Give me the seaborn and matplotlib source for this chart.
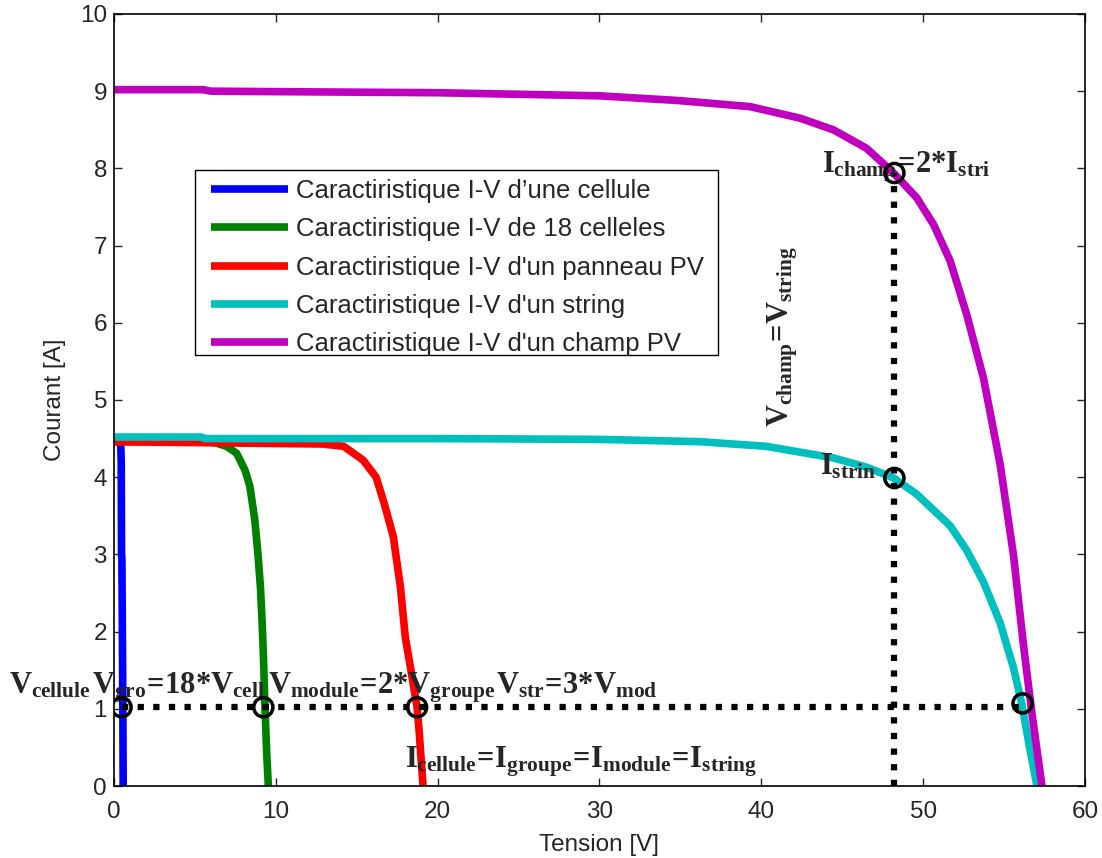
import matplotlib
matplotlib.use("Agg")
import matplotlib.pyplot as plt
from matplotlib.patches import Rectangle
import seaborn as sns
import pandas as pd

# I-V characteristics: tension [V] and courant [A]
V_cell = [0, 0.35, 0.42, 0.45, 0.47, 0.49, 0.52, 0.55, 0.57]
I_cell = [4.46, 4.46, 4.42, 4.2, 3.0, 2.95, 2.0, 1.0, 0.0]

V_group = [0, 5.3, 6.2, 6.96, 7.58, 8.1, 8.4, 8.7, 8.9, 9.05, 9.15, 9.23, 9.33, 9.44, 9.54]
I_group = [4.46, 4.46, 4.45, 4.40, 4.31, 4.09, 3.88, 3.45, 3.0, 2.58, 2.15, 1.72, 1.02,
           0.42, 0.0]

V_panel = [0, 12.9, 14.2, 15.4, 16.2, 16.7, 17.26, 17.7, 18.0, 18.35, 18.73, 18.85, 19.1]
I_panel = [4.46, 4.43, 4.40, 4.22, 4.0, 3.66, 3.23, 2.58, 1.93, 1.5, 1.02, 0.73, 0.0]

V_string = [0, 5.4, 5.6, 20, 30.0, 36.2, 40.3, 44.45, 46.5, 48.17, 49.6, 51.67, 52.7,
            53.73, 54.76, 55.58, 56.1, 56.6, 57.03]
I_string = [4.52, 4.52, 4.50, 4.50, 4.49, 4.46, 4.40, 4.25, 4.13, 3.99, 3.78, 3.37, 3.05,
            2.64, 2.11, 1.53, 1.06, 0.47, 0.0]

V_field = [0, 5.5, 6.0, 20, 30.0, 34.8, 39.3, 42.4, 44.45, 46.5, 48.17, 49.6, 50.65,
           51.67, 52.7, 53.73, 54.76, 55.58, 56.2, 56.72, 57.34]
I_field = [9.02, 9.02, 9.0, 8.98, 8.94, 8.88, 8.80, 8.65, 8.50, 8.26, 7.94, 7.62, 7.27,
           6.80, 6.10, 5.28, 4.16, 2.99, 1.82, 0.94, 0.0]

labels = [
    "Caractiristique I-V d\u2019une cellule",
    "Caractiristique I-V de 18 celleles",
    "Caractiristique I-V d'un panneau PV",
    "Caractiristique I-V d'un string",
    "Caractiristique I-V d'un champ PV",
]
colors = ["#0000ff", "#008000", "#ff0000", "#00bfbf", "#bf00bf"]

# Operating points marked with circles
circ_V = [0.47, 9.23, 18.73, 56.14, 48.22, 48.22]
circ_I = [1.02, 1.02, 1.02, 1.07, 3.99, 7.94]

# Guide lines
h_line_V = [0.47, 56.14]
h_line_I = [1.02, 1.02]
v_line_V = [48.22, 48.22]
v_line_I = [0.0, 7.94]

sns.set_style("ticks")
plt.rcParams["font.family"] = ["Liberation Sans", "DejaVu Sans"]
plt.rcParams["mathtext.fontset"] = "custom"
plt.rcParams["mathtext.rm"] = "Liberation Serif:bold"
plt.rcParams["mathtext.it"] = "Liberation Serif:bold"
plt.rcParams["mathtext.bf"] = "Liberation Serif:bold"

fig = plt.figure(figsize=(11.02, 8.58), dpi=100)
ax = fig.add_axes([0.1034, 0.0839, 0.8812, 0.8998])

curves = [(V_cell, I_cell), (V_group, I_group), (V_panel, I_panel),
          (V_string, I_string), (V_field, I_field)]
for (v, i), lab, col in zip(curves, labels, colors):
    df = pd.DataFrame({"Tension": v, "Courant": i})
    sns.lineplot(data=df, x="Tension", y="Courant", ax=ax, color=col, lw=5.5,
                 label=lab, sort=False, estimator=None, solid_capstyle="butt",
                 solid_joinstyle="round")

dot = (0, (1, 1.5))
ax.plot(h_line_V, h_line_I, color="black", lw=4.5, linestyle=dot, dash_capstyle="butt")
ax.plot(v_line_V, v_line_I, color="black", lw=4.5, linestyle=dot, dash_capstyle="butt")
sns.scatterplot(x=circ_V, y=circ_I, ax=ax, s=190, marker="o", facecolor="none",
                edgecolor="black", linewidth=2.5, zorder=5)

ax.set_xlim(0, 60)
ax.set_ylim(0, 10)
ax.set_xticks(range(0, 61, 10))
ax.set_yticks(range(0, 11, 1))
ax.tick_params(direction="in", length=6, width=1, top=True, right=True,
               labelsize=17.5, pad=5)
ax.tick_params(axis="x", pad=11)
for sp in ax.spines.values():
    sp.set_visible(True)
    sp.set_linewidth(1.2)
    sp.set_color("black")
ax.set_xlabel("Tension [V]", fontsize=17.5, labelpad=8)
ax.set_ylabel("Courant [A]", fontsize=17.5, labelpad=10)

# Legend contents without their own frame; the box is drawn separately
leg = ax.legend(loc="upper left", bbox_to_anchor=(0.0999, 0.7865), borderaxespad=0,
                fontsize=18.5, frameon=False, handlelength=3.0, handletextpad=0.3,
                labelspacing=0.56, borderpad=0.0)
for h in leg.get_lines():
    h.set_linewidth(5.5)
ax.add_patch(Rectangle((0.0834, 0.558), 0.5386, 0.240, transform=ax.transAxes,
                       facecolor="white", edgecolor="black", lw=1.0, zorder=4.5))
leg.set_zorder(5)

fs = 22
ax.text(-6.49, 1.2, r"$V_{cellule}$", fontsize=fs, ha="left", va="baseline")
ax.text(-1.36, 1.2, r"$V_{gro}\!=\!18{*}V_{cell}$", fontsize=fs, ha="left", va="baseline")
ax.text(9.52, 1.2, r"$V_{module}\!=\!2{*}V_{groupe}$", fontsize=fs, ha="left", va="baseline")
ax.text(23.6, 1.2, r"$V_{str}\!=\!3{*}V_{mod}$", fontsize=fs, ha="left", va="baseline")
ax.text(17.98, 0.246, r"$I_{cellule}\!=\!I_{groupe}\!=\!I_{module}\!=\!I_{string}$",
        fontsize=fs, ha="left", va="baseline")
ax.text(43.76, 7.95, r"$I_{champ}\!=\!2{*}I_{stri}$", fontsize=fs, ha="left", va="baseline")
ax.text(43.63, 4.03, r"$I_{strin}$", fontsize=fs, ha="left", va="baseline")
ax.text(41.35, 4.65, r"$V_{champ}\!=\!V_{string}$", fontsize=fs, rotation=90,
        ha="center", va="bottom")

fig.savefig("out.png", dpi=100, facecolor="white")
